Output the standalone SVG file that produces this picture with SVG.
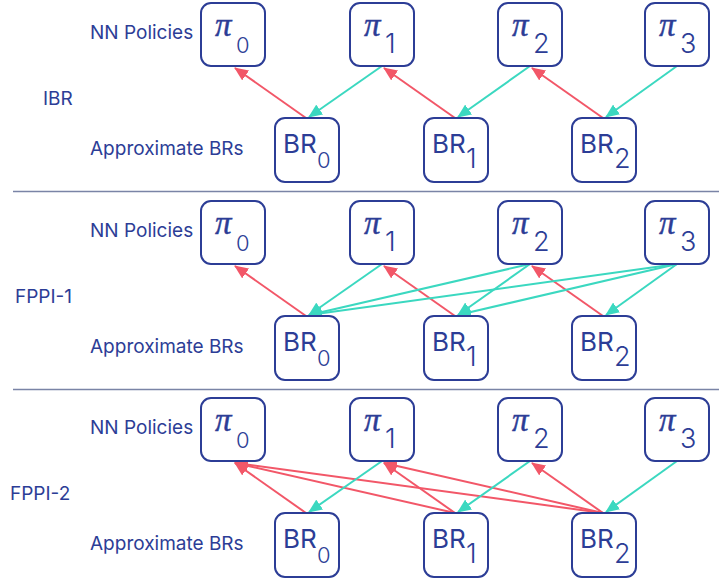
<svg xmlns="http://www.w3.org/2000/svg" width="719" height="580" viewBox="0 0 719 580">
<style>
.lbl{font-family:Inter,"Liberation Sans",sans-serif;font-size:19px;fill:#2c3d96}
.box{fill:#fff;stroke:#2c3d96;stroke-width:2}
.pi{font-family:"Liberation Serif",serif;font-style:italic;font-size:33px;fill:#2c3d96;stroke:#2c3d96;stroke-width:0.4}
.sub{font-family:Inter,"Liberation Sans",sans-serif;font-size:27px;font-weight:300;fill:#2c3d96}
.sub0{font-family:Inter,"Liberation Sans",sans-serif;font-size:22px;font-weight:300;fill:#2c3d96}
.br{font-family:Inter,"Liberation Sans",sans-serif;font-size:26px;fill:#2c3d96}
.sep{stroke:#7a84a6;stroke-width:1.5}
.red{stroke:#f25768;stroke-width:2;fill:none;marker-end:url(#hr)}
.teal{stroke:#3bd8c0;stroke-width:2;fill:none;marker-end:url(#ht)}
</style>
<defs>
<marker id="hr" markerUnits="userSpaceOnUse" markerWidth="14" markerHeight="12" viewBox="0 0 14 12" refX="13" refY="6" orient="auto"><path d="M0,0 L14,6 L0,12 z" fill="#f25768"/></marker>
<marker id="ht" markerUnits="userSpaceOnUse" markerWidth="14" markerHeight="12" viewBox="0 0 14 12" refX="13" refY="6" orient="auto"><path d="M0,0 L14,6 L0,12 z" fill="#3bd8c0"/></marker>
<g id="piTpl0"><rect class="box" x="0" y="0" width="64" height="63" rx="10"/><text class="pi" x="14" y="33">π</text><text class="sub0" x="35" y="50">0</text></g>
<g id="piTpl1"><rect class="box" x="0" y="0" width="64" height="63" rx="10"/><text class="pi" x="14" y="33">π</text><text class="sub" x="35" y="50">1</text></g>
<g id="piTpl2"><rect class="box" x="0" y="0" width="64" height="63" rx="10"/><text class="pi" x="14" y="33">π</text><text class="sub" x="35" y="50">2</text></g>
<g id="piTpl3"><rect class="box" x="0" y="0" width="64" height="63" rx="10"/><text class="pi" x="14" y="33">π</text><text class="sub" x="35" y="50">3</text></g>
<g id="brTpl0"><rect class="box" x="0" y="0" width="64" height="64" rx="10"/><text class="br" x="8" y="35">BR</text><text class="sub0" x="42" y="50">0</text></g>
<g id="brTpl1"><rect class="box" x="0" y="0" width="64" height="64" rx="10"/><text class="br" x="8" y="35">BR</text><text class="sub" x="42" y="50">1</text></g>
<g id="brTpl2"><rect class="box" x="0" y="0" width="64" height="64" rx="10"/><text class="br" x="8" y="35">BR</text><text class="sub" x="42" y="50">2</text></g>
</defs>
<rect width="719" height="580" fill="#fff"/>
<g id="separators">
<line class="sep" x1="13" y1="191.5" x2="719" y2="191.5"/>
<line class="sep" x1="13" y1="389.5" x2="719" y2="389.5"/>
</g>
<g id="labels">
<text class="lbl" x="43" y="105">IBR</text>
<text class="lbl" x="90" y="39">NN Policies</text>
<text class="lbl" x="90" y="155">Approximate BRs</text>
<text class="lbl" x="15" y="303">FPPI-1</text>
<text class="lbl" x="90" y="237">NN Policies</text>
<text class="lbl" x="90" y="353">Approximate BRs</text>
<text class="lbl" x="10" y="500">FPPI-2</text>
<text class="lbl" x="90" y="434">NN Policies</text>
<text class="lbl" x="90" y="550">Approximate BRs</text>
</g>
<g id="connectors">
<line class="red" x1="306" y1="118" x2="235" y2="68"/>
<line class="red" x1="455" y1="118" x2="384" y2="68"/>
<line class="red" x1="603" y1="118" x2="532" y2="68"/>
<line class="teal" x1="382" y1="66" x2="309" y2="117"/>
<line class="teal" x1="530" y1="66" x2="458" y2="117"/>
<line class="teal" x1="677" y1="66" x2="606" y2="117"/>
<line class="red" x1="306" y1="316" x2="235" y2="266"/>
<line class="red" x1="455" y1="316" x2="384" y2="266"/>
<line class="red" x1="603" y1="316" x2="532" y2="266"/>
<line class="teal" x1="382" y1="264" x2="309" y2="315"/>
<line class="teal" x1="530" y1="264" x2="309" y2="315"/>
<line class="teal" x1="677" y1="264" x2="309" y2="315"/>
<line class="teal" x1="530" y1="264" x2="458" y2="315"/>
<line class="teal" x1="677" y1="264" x2="458" y2="315"/>
<line class="teal" x1="677" y1="264" x2="606" y2="315"/>
<line class="red" x1="306" y1="513" x2="235" y2="463"/>
<line class="red" x1="455" y1="513" x2="235" y2="463"/>
<line class="red" x1="603" y1="513" x2="235" y2="463"/>
<line class="red" x1="455" y1="513" x2="384" y2="463"/>
<line class="red" x1="603" y1="513" x2="384" y2="463"/>
<line class="red" x1="603" y1="513" x2="532" y2="463"/>
<line class="teal" x1="382" y1="461" x2="309" y2="512"/>
<line class="teal" x1="530" y1="461" x2="458" y2="512"/>
<line class="teal" x1="677" y1="461" x2="606" y2="512"/>
</g>
<g id="ibr-pi0"><use href="#piTpl0" x="201" y="3"/></g>
<g id="ibr-pi1"><use href="#piTpl1" x="350" y="3"/></g>
<g id="ibr-pi2"><use href="#piTpl2" x="498" y="3"/></g>
<g id="ibr-pi3"><use href="#piTpl3" x="645" y="3"/></g>
<g id="ibr-br0"><use href="#brTpl0" x="275" y="118"/></g>
<g id="ibr-br1"><use href="#brTpl1" x="424" y="118"/></g>
<g id="ibr-br2"><use href="#brTpl2" x="572" y="118"/></g>
<g id="f1-pi0"><use href="#piTpl0" x="201" y="201"/></g>
<g id="f1-pi1"><use href="#piTpl1" x="350" y="201"/></g>
<g id="f1-pi2"><use href="#piTpl2" x="498" y="201"/></g>
<g id="f1-pi3"><use href="#piTpl3" x="645" y="201"/></g>
<g id="f1-br0"><use href="#brTpl0" x="275" y="316"/></g>
<g id="f1-br1"><use href="#brTpl1" x="424" y="316"/></g>
<g id="f1-br2"><use href="#brTpl2" x="572" y="316"/></g>
<g id="f2-pi0"><use href="#piTpl0" x="201" y="398"/></g>
<g id="f2-pi1"><use href="#piTpl1" x="350" y="398"/></g>
<g id="f2-pi2"><use href="#piTpl2" x="498" y="398"/></g>
<g id="f2-pi3"><use href="#piTpl3" x="645" y="398"/></g>
<g id="f2-br0"><use href="#brTpl0" x="275" y="513"/></g>
<g id="f2-br1"><use href="#brTpl1" x="424" y="513"/></g>
<g id="f2-br2"><use href="#brTpl2" x="572" y="513"/></g>
</svg>
